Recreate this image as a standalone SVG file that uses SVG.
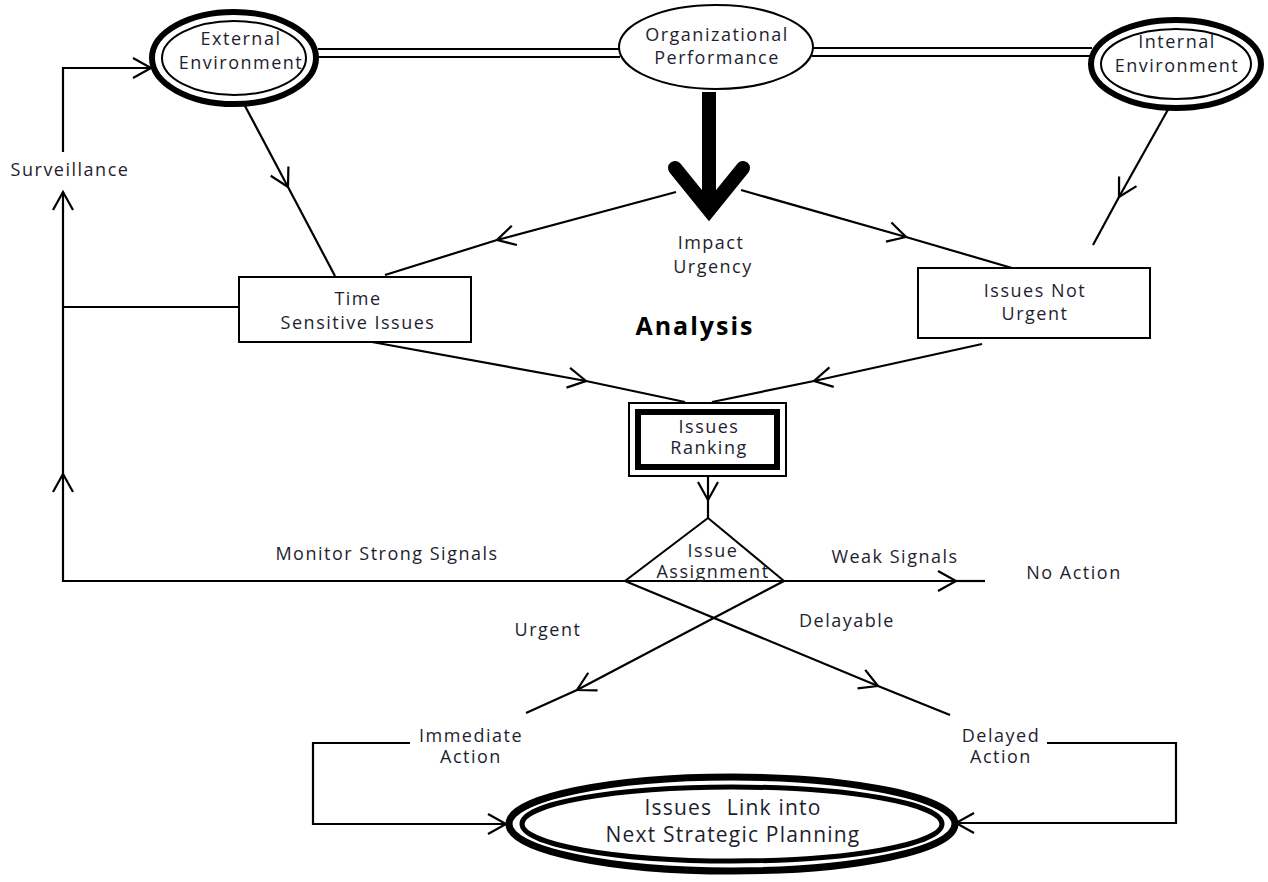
<svg xmlns="http://www.w3.org/2000/svg" width="1268" height="882" viewBox="0 0 1268 882">
<defs>
<style>
text{font-family:"Open Sans","Liberation Sans",sans-serif;font-size:18px;letter-spacing:1.5px;fill:#1e1e30;text-anchor:middle}
.ln{fill:none;stroke:#000;stroke-width:2.2}
.thin{fill:#fff;stroke:#000;stroke-width:2}
.thick{fill:none;stroke:#000;stroke-width:6}
.big{font-size:21px;letter-spacing:1.2px}
</style>
<marker id="ch" markerUnits="userSpaceOnUse" markerWidth="30" markerHeight="30" viewBox="-22 -15 30 30" refX="0" refY="0" orient="auto">
<path d="M-18,-10 L0,0 L-18,10" fill="none" stroke="#000" stroke-width="2.2"/>
</marker>
</defs>
<rect width="1268" height="882" fill="#fff"/>
<g id="connectors">
<path class="ln" d="M318,49 H620 M318,57 H620"/>
<path class="ln" d="M812,48 H1092 M812,56 H1092"/>
<path d="M709,92 V208" stroke="#000" stroke-width="14" fill="none"/>
<path d="M675,168 L709,210 L743,168" stroke="#000" stroke-width="14" fill="none" stroke-linecap="round" stroke-linejoin="miter"/>
<path class="ln" d="M676,192 L497,240" marker-end="url(#ch)"/>
<path class="ln" d="M497,240 L385,275"/>
<path class="ln" d="M741,190 L906,237" marker-end="url(#ch)"/>
<path class="ln" d="M906,237 L1012,268"/>
<path class="ln" d="M245,106 L288,187" marker-end="url(#ch)"/>
<path class="ln" d="M288,187 L335,276"/>
<path class="ln" d="M1170,106 L1119,197" marker-end="url(#ch)"/>
<path class="ln" d="M1119,197 L1093,245"/>
<path class="ln" d="M372,342 L586,381" marker-end="url(#ch)"/>
<path class="ln" d="M586,381 L685,402"/>
<path class="ln" d="M982,344 L814,381" marker-end="url(#ch)"/>
<path class="ln" d="M814,381 L712,402"/>
<path class="ln" d="M708,476 L708,500" marker-end="url(#ch)"/>
<path class="ln" d="M708,500 L708,518"/>
<path class="ln" d="M784,581 L956,581" marker-end="url(#ch)"/>
<path class="ln" d="M956,581 L985,581"/>
<path class="ln" d="M625,581 H63 V474" marker-end="url(#ch)"/>
<path class="ln" d="M63,474 V192" marker-end="url(#ch)"/>
<path class="ln" d="M239,307 H63"/>
<path class="ln" d="M63,152 V68 H151" marker-end="url(#ch)"/>
<path class="ln" d="M784,581 L577,690" marker-end="url(#ch)"/>
<path class="ln" d="M577,690 L526,713"/>
<path class="ln" d="M625,581 L878,686" marker-end="url(#ch)"/>
<path class="ln" d="M878,686 L950,715"/>
<path class="ln" d="M410,743 H313 V824 H506" marker-end="url(#ch)"/>
<path class="ln" d="M1047,743 H1176 V823 H956" marker-end="url(#ch)"/>
</g>
<g id="external-environment">
<ellipse cx="234" cy="58" rx="82" ry="46" fill="#fff" stroke="#000" stroke-width="6"/>
<ellipse cx="234" cy="58" rx="72" ry="37" class="thin"/>
<text x="241" y="45">External</text>
<text x="241" y="69">Environment</text>
</g>
<g id="organizational-performance">
<ellipse cx="716" cy="47" rx="97" ry="42" class="thin"/>
<text x="717" y="41">Organizational</text>
<text x="717" y="64">Performance</text>
</g>
<g id="internal-environment">
<ellipse cx="1176" cy="64" rx="85" ry="44" fill="#fff" stroke="#000" stroke-width="6"/>
<ellipse cx="1176" cy="64" rx="75" ry="35" class="thin"/>
<text x="1177" y="48">Internal</text>
<text x="1177" y="72">Environment</text>
</g>
<g id="impact-urgency">
<text x="711" y="249">Impact</text>
<text x="713" y="273">Urgency</text>
</g>
<g id="analysis">
<text x="695" y="335" style="font-size:25px;letter-spacing:2px;font-weight:bold;fill:#000">Analysis</text>
</g>
<g id="time-sensitive-issues">
<rect x="239" y="277" width="232" height="65" class="thin"/>
<text x="358" y="305">Time</text>
<text x="358" y="329">Sensitive Issues</text>
</g>
<g id="issues-not-urgent">
<rect x="918" y="268" width="232" height="70" class="thin"/>
<text x="1035" y="297">Issues Not</text>
<text x="1035" y="320">Urgent</text>
</g>
<g id="issues-ranking">
<rect x="629" y="403" width="157" height="73" class="thin"/>
<rect x="638" y="412" width="139" height="55" class="thick"/>
<text x="709" y="433">Issues</text>
<text x="709" y="454">Ranking</text>
</g>
<g id="issue-assignment">
<path d="M708,518 L784,581 L625,581 Z" class="thin" stroke-width="2.2"/>
<text x="713" y="557">Issue</text>
<text x="713" y="578">Assignment</text>
</g>
<g id="labels">
<text x="70" y="176">Surveillance</text>
<text x="387" y="560">Monitor Strong Signals</text>
<text x="895" y="563">Weak Signals</text>
<text x="1074" y="579">No Action</text>
<text x="548" y="636">Urgent</text>
<text x="847" y="627">Delayable</text>
</g>
<g id="immediate-action">
<text x="471" y="742">Immediate</text>
<text x="471" y="763">Action</text>
</g>
<g id="delayed-action">
<text x="1001" y="742">Delayed</text>
<text x="1001" y="763">Action</text>
</g>
<g id="strategic-planning">
<ellipse cx="732" cy="824" rx="223" ry="47" fill="#fff" stroke="#000" stroke-width="7"/>
<ellipse cx="732" cy="824" rx="210" ry="37" fill="none" stroke="#000" stroke-width="5"/>
<text x="733" y="815" class="big">Issues<tspan dx="8"> Link into</tspan></text>
<text x="733" y="842" class="big">Next Strategic Planning</text>
</g>
</svg>
